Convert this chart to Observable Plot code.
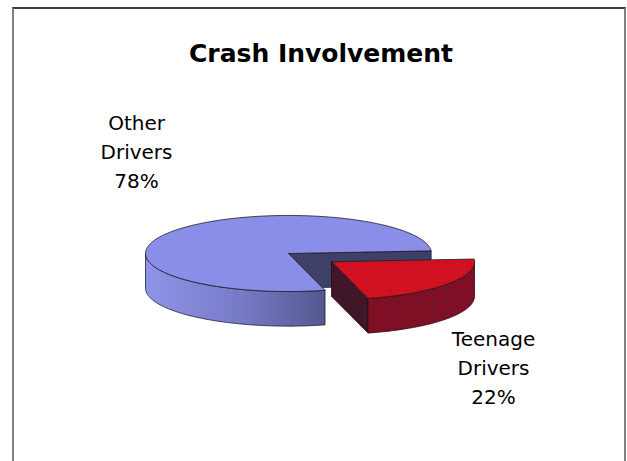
<!DOCTYPE html>
<html><head><meta charset="utf-8">
<script src="https://cdn.jsdelivr.net/npm/d3@7"></script>
<script src="https://cdn.jsdelivr.net/npm/@observablehq/plot@0.6"></script>
<style>
html,body{margin:0;padding:0;background:#fff;overflow:hidden;width:627px;height:461px}
#chart{position:absolute;left:0;top:0}
#frame{position:absolute;left:12px;top:7px;right:1px;bottom:-20px;border:2px solid #808080;border-top-color:#3c3c3c;pointer-events:none}
</style></head><body>
<div id="chart"></div><div id="frame"></div>
<script>
// ---- data ----
const title = "Crash Involvement";
const categories = ["Teenage Drivers", "Other Drivers"];
const shares = [22, 78];
const exploded = [true, false];

// ---- styling ----
const topFills = ["url(#redTop)", "#8a8ee8"];
const wallFills = ["url(#redWall)", "url(#blueWall)"];
const cutFills = ["#3f1729", "#3f4068"];
const edgeStroke = ["#2a0a14", "#1e1e3a"];

// ---- 3D pie geometry (unit radius) ----
const startAngle = -4;      // degrees, clockwise on screen
const tilt = 0.266, depth = 0.242, explodeDist = 0.37;
const labelRx = 1.35, labelRy = 1.25, labelDx = 0.035;
const rad = Math.PI / 180;
const total = d3.sum(shares);

let acc = startAngle;
const slices = categories.map((name, i) => {
  const span = shares[i] / total * 360;
  const a0 = acc, a1 = acc + span; acc = a1;
  const mid = (a0 + a1) / 2;
  const e = exploded[i] ? explodeDist : 0;
  return {i, name, share: shares[i], a0, a1, mid,
    cx: e * Math.cos(mid * rad), cy: e * Math.sin(mid * rad) * tilt};
});

const P = (s, a, down) => ({x: s.cx + Math.cos(a * rad), y: s.cy + tilt * Math.sin(a * rad) + (down ? depth : 0)});
const arc = (s, a0, a1, down) => {
  const n = Math.max(2, Math.ceil(Math.abs(a1 - a0)));
  return d3.range(n + 1).map(k => P(s, a0 + (a1 - a0) * k / n, down));
};

const faces = [];
const order = slices.slice().sort((a, b) => (exploded[a.i] ? 1 : 0) - (exploded[b.i] ? 1 : 0));
for (const s of order) {
  const C = {x: s.cx, y: s.cy}, Cd = {x: s.cx, y: s.cy + depth};
  if (Math.cos(s.a0 * rad) < 0) { const p = P(s, s.a0), q = P(s, s.a0, true); faces.push({fill: cutFills[s.i], stroke: edgeStroke[s.i], pts: [C, p, q, Cd, C]}); }
  if (Math.cos(s.a1 * rad) > 0) { const p = P(s, s.a1), q = P(s, s.a1, true); faces.push({fill: cutFills[s.i], stroke: edgeStroke[s.i], pts: [C, p, q, Cd, C]}); }
  for (const off of [-360, 0, 360]) {
    const lo = Math.max(s.a0, off), hi = Math.min(s.a1, off + 180);
    if (hi > lo) {
      const top = arc(s, lo, hi, false), bot = arc(s, hi, lo, true);
      faces.push({fill: wallFills[s.i], stroke: edgeStroke[s.i], pts: [...top, ...bot, top[0]]});
    }
  }
  faces.push({fill: topFills[s.i], stroke: "#1a1a1a", pts: [C, ...arc(s, s.a0, s.a1, false), C]});
}

const labels = slices.map(s => ({
  x: s.cx + labelRx * Math.cos(s.mid * rad) + labelDx,
  y: s.cy + labelRy * Math.sin(s.mid * rad),
  text: s.name.replace(" ", "\n") + "\n" + s.share + "%"
}));

const W = 627, H = 461, unit = 143, originX = 288, originY = 253;
const chart = Plot.plot({
  width: W, height: H,
  margin: 0,
  x: {domain: [-originX / unit, (W - originX) / unit], range: [0, W], axis: null},
  y: {domain: [-originY / unit, (H - originY) / unit], range: [0, H], axis: null},
  style: {fontFamily: "DejaVu Sans", background: "transparent", overflow: "visible"},
  marks: [
    ...faces.map(f => Plot.line(f.pts, {x: "x", y: "y", fill: f.fill, stroke: f.stroke, strokeWidth: 0.8, strokeLinejoin: "round", curve: "linear"})),
    Plot.text(labels, {x: "x", y: "y", text: "text", fontSize: 20, lineHeight: 1.45, fill: "#000", textAnchor: "middle"}),
    Plot.text([title], {frameAnchor: "top", lineAnchor: "top", dy: 44, dx: 7, text: d => d, fontSize: 25, fontWeight: "bold", fill: "#000"})
  ]
});

const ns = "http://www.w3.org/2000/svg";
const defs = document.createElementNS(ns, "defs");
defs.innerHTML = `
<linearGradient id="blueWall" x1="0" x2="1" y1="0" y2="0">
  <stop offset="0" stop-color="#9094e8"/>
  <stop offset="0.55" stop-color="#7679c4"/>
  <stop offset="1" stop-color="#55578f"/>
</linearGradient>
<pattern id="redTop" patternUnits="userSpaceOnUse" width="4" height="4">
  <rect width="4" height="4" fill="#dc101c"/>
  <circle cx="2" cy="2" r="1.1" fill="#a81534"/>
</pattern>
<pattern id="redWall" patternUnits="userSpaceOnUse" width="6" height="6">
  <rect width="6" height="6" fill="#920a1a"/>
  <rect x="0" y="0" width="3" height="3" fill="#5a1a3a"/>
  <rect x="3" y="3" width="3" height="3" fill="#7a0e26"/>
</pattern>`;
chart.insertBefore(defs, chart.firstChild);
document.getElementById("chart").appendChild(chart);
</script>
</body></html>
